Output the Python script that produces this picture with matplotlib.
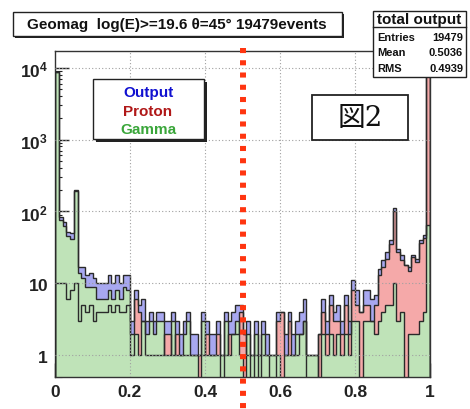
import numpy as np
import matplotlib
matplotlib.use('Agg')
import matplotlib.pyplot as plt
from matplotlib.patches import Rectangle
from matplotlib.ticker import FixedLocator, FixedFormatter, LogLocator, NullFormatter, MultipleLocator

plt.rcParams['font.family'] = ['Liberation Sans', 'DejaVu Sans']
plt.rcParams['mathtext.fontset'] = 'custom'
plt.rcParams['mathtext.rm'] = 'Liberation Sans'
plt.rcParams['mathtext.bf'] = 'Liberation Sans:bold'

# ---------------- data (100 bins from 0 to 1) ----------------
bin_edges = np.linspace(0.0, 1.0, 101)

output = [8700, 85, 72, 52, 50, 200, 17, 17, 13, 14, 12, 10, 10, 10, 13, 10, 13, 10, 13, 13,
          3, 8, 5, 6, 3, 4, 3, 4, 4, 3, 3, 4, 3, 2, 3, 4, 2, 2, 1, 4, 3, 2, 2, 3, 1, 4, 3, 4, 5, 5,
          2, 3, 1, 3, 1, 3, 2, 1, 1, 4, 4, 2, 4, 2, 3, 4, 6, 1, 1, 1, 2, 6, 3, 7, 4, 5, 3, 7, 3,
          11, 8, 4, 8, 8, 6, 7, 16, 21, 27, 40, 110, 30, 25, 18, 17, 25, 22, 40, 47, 9300]
proton = [10, 10, 10, 6, 8, 10, 3, 5, 4, 5, 3, 4, 4, 4, 5, 4, 5, 4, 4, 5,
          1, 6, 4, 3, 1, 1, 1, 1, 1, 2, 2, 1, 2, 1, 1, 1, 1, 1, 1, 1, 2, 1, 1, 2, 0, 1, 2, 2, 2, 4,
          2, 1, 0, 1, 0, 1, 1, 0, 0, 3, 4, 1, 3, 1, 1, 2, 3, 0, 0, 0, 2, 4, 2, 5, 3, 3, 2, 5, 2,
          8, 5, 4, 5, 5, 3, 5, 13, 17, 22, 35, 100, 27, 21, 18, 15, 23, 20, 37, 43, 9235]
gamma = [8690, 75, 62, 46, 42, 190, 14, 12, 9, 9, 9, 6, 6, 6, 8, 6, 8, 6, 9, 8,
         2, 2, 1, 3, 2, 3, 2, 3, 3, 1, 1, 3, 1, 1, 2, 3, 1, 1, 0, 3, 1, 1, 1, 1, 1, 3, 1, 2, 3, 1,
         0, 2, 1, 2, 1, 2, 1, 1, 1, 1, 0, 1, 1, 1, 2, 2, 3, 1, 1, 1, 0, 2, 1, 2, 1, 2, 1, 2, 1,
         3, 3, 0, 3, 3, 3, 2, 3, 4, 5, 5, 10, 3, 4, 0, 2, 2, 2, 3, 4, 65]

series_names = ['Output', 'Proton', 'Gamma']
fill_colors = ['#a8a8f0', '#f5a9a9', '#bfe3b8']
text_colors = ['#1010d0', '#b01818', '#3aa63a']

x_ticks = [0, 0.2, 0.4, 0.6, 0.8, 1.0]
x_tick_labels = ['0', '0.2', '0.4', '0.6', '0.8', '1']
y_ticks = [1, 10, 100, 1000, 10000]
y_tick_labels = [r'$\mathbf{1}$', r'$\mathbf{10}$', r'$\mathbf{10^{2}}$', r'$\mathbf{10^{3}}$', r'$\mathbf{10^{4}}$']

title_text = 'Geomag  log(E)>=19.6 θ=45° 19479events'
stats_title = 'total output'
stats_rows = [('Entries', '19479'), ('Mean', '0.5036'), ('RMS', '0.4939')]
fig_label = '図2'
cut_value = 0.5

# ---------------- figure ----------------
W, H = 470, 410
fig = plt.figure(figsize=(W / 100, H / 100), dpi=100)
fig.patch.set_facecolor('white')

def fx(px):
    return px / W

def fy(py):
    return 1 - py / H

ax = fig.add_axes([fx(55), fy(378), 375 / W, 326 / H])
ax.set_yscale('log')
ax.set_xlim(0, 1)
ax.set_ylim(0.5, 1.7e4)

floor = 1e-3
series = [output, proton, gamma]
for vals, fc in zip(series, fill_colors):
    v = np.where(np.asarray(vals, float) > 0, np.asarray(vals, float), floor)
    ax.stairs(v, bin_edges, baseline=floor, fill=True, facecolor=fc, edgecolor='none', zorder=2)
for vals in series:
    v = np.where(np.asarray(vals, float) > 0, np.asarray(vals, float), floor)
    ax.stairs(v, bin_edges, baseline=floor, fill=False, edgecolor='#2a2a2a', linewidth=1.0, zorder=3)

# grid on top (ROOT style)
for xv in x_ticks[1:-1]:
    ax.axvline(xv, color='#a0a0a0', lw=0.8, ls=(0, (1, 2)), zorder=4)
for yv in y_ticks:
    ax.axhline(yv, color='#a0a0a0', lw=0.8, ls=(0, (1, 2)), zorder=4)

ax.xaxis.set_major_locator(FixedLocator(x_ticks))
ax.xaxis.set_major_formatter(FixedFormatter(x_tick_labels))
ax.xaxis.set_minor_locator(MultipleLocator(0.04))
ax.yaxis.set_major_locator(FixedLocator(y_ticks))
ax.yaxis.set_major_formatter(FixedFormatter(y_tick_labels))
ax.yaxis.set_minor_locator(LogLocator(base=10, subs=np.arange(2, 10)))
ax.yaxis.set_minor_formatter(NullFormatter())
ax.tick_params(which='both', direction='in', top=False, right=False, colors='#222222')
ax.tick_params(which='major', length=10, width=1.0, labelsize=12.5, pad=5)
ax.tick_params(which='minor', length=5, width=0.8)
for lab in ax.get_xticklabels():
    lab.set_fontweight('bold')
for sp in ax.spines.values():
    sp.set_color('#333333')
    sp.set_linewidth(1.0)

# red dotted cut line
ax.plot([cut_value, cut_value], [1.008, -0.1], transform=ax.get_xaxis_transform(),
        color='#ff3510', lw=4.3, ls=(0, (0.85, 1.2)), solid_capstyle='butt',
        dash_capstyle='butt', clip_on=False, zorder=10)

# ---------------- boxes ----------------
def box(x0, y0, x1, y1, shadow=True, lw=1.0, sh=2):
    if shadow:
        fig.patches.append(Rectangle((fx(x0 + sh), fy(y1 + sh)), (x1 - x0) / W, (y1 - y0) / H,
                                     transform=fig.transFigure, facecolor='#222222',
                                     edgecolor='none', zorder=5))
    fig.patches.append(Rectangle((fx(x0), fy(y1)), (x1 - x0) / W, (y1 - y0) / H,
                                 transform=fig.transFigure, facecolor='white',
                                 edgecolor='#222222', lw=lw, zorder=6))

box(13, 13, 342, 37)
fig.text(fx(177), fy(25), title_text, ha='center', va='center', fontsize=11,
         fontweight='bold', color='#111111', zorder=7)

# ---------------- stats box ----------------
box(373, 12, 466, 78, shadow=False)
fig.lines.append(plt.Line2D([fx(373), fx(466)], [fy(28), fy(28)], transform=fig.transFigure,
                            color='#222222', lw=1.0, zorder=7))
fig.text(fx(419.5), fy(20), stats_title, ha='center', va='center', fontsize=11,
         fontweight='bold', color='#111111', zorder=7)
for i, (k, v) in enumerate(stats_rows):
    yy = 38 + i * 15.5
    fig.text(fx(377), fy(yy), k, ha='left', va='center', fontsize=8, fontweight='bold',
             color='#111111', zorder=7)
    fig.text(fx(463), fy(yy), v, ha='right', va='center', fontsize=8, fontweight='bold',
             color='#111111', zorder=7)

# ---------------- legend box ----------------
box(93, 80, 204, 140, shadow=True, sh=3)
for i, (name, tc) in enumerate(zip(series_names, text_colors)):
    fig.text(fx(148), fy(93 + i * 18.5), name, ha='center', va='center', fontsize=11,
             fontweight='bold', color=tc, zorder=7)

# ---------------- figure label box ----------------
box(312, 96, 408, 141, shadow=False, lw=1.3)
fig.text(fx(360), fy(119), fig_label, ha='center', va='center', fontsize=20,
         family=['DejaVu Serif', 'Noto Sans CJK JP'], color='#111111', zorder=7)

fig.savefig('out.png', dpi=100, facecolor='white')
